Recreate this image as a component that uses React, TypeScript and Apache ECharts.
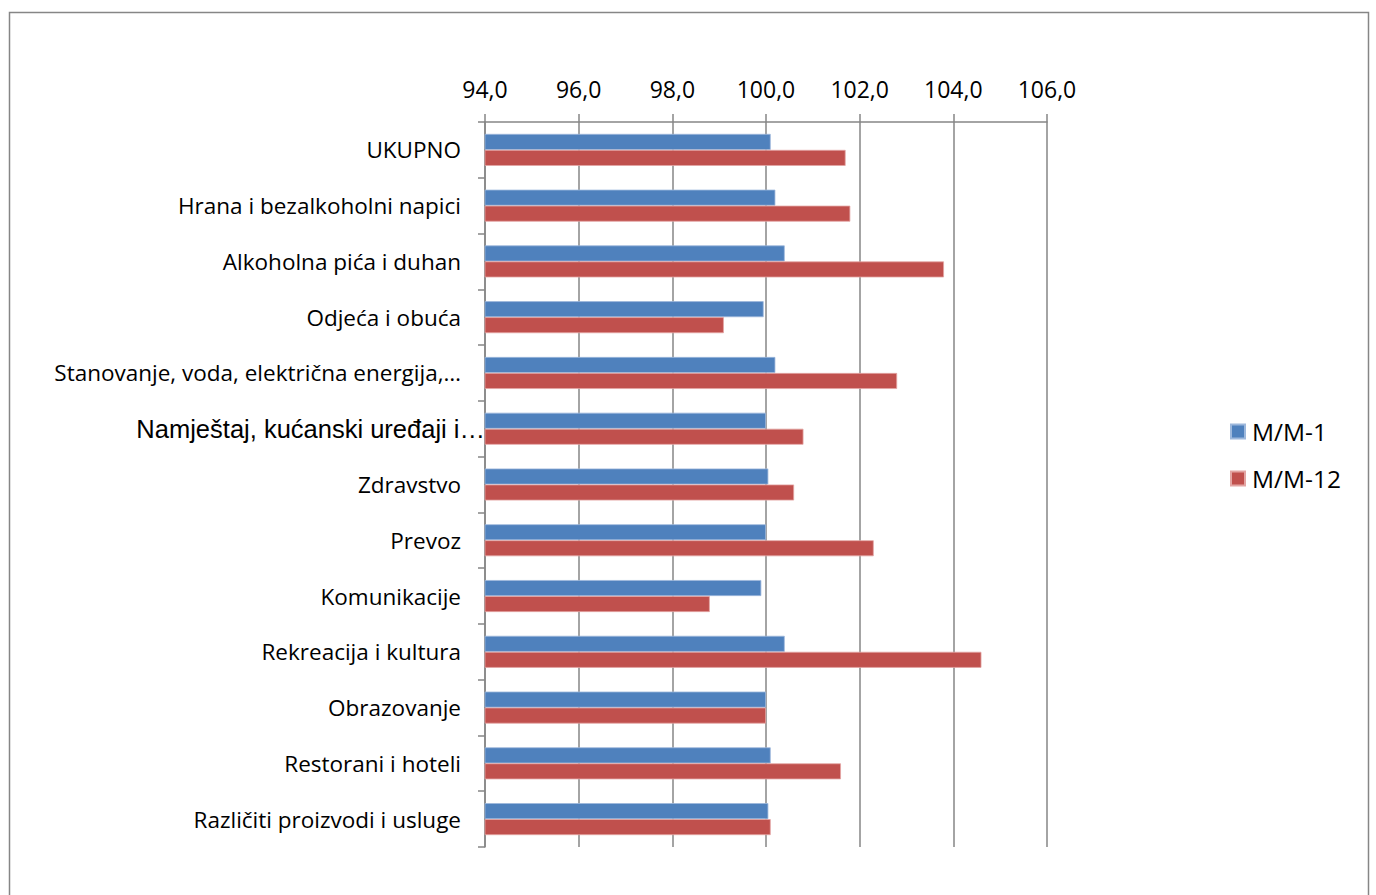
import React, { useEffect, useRef } from "react";
import * as echarts from "echarts";

const categories = [
  "UKUPNO",
  "Hrana i bezalkoholni napici",
  "Alkoholna pića i duhan",
  "Odjeća i obuća",
  "Stanovanje, voda, električna energija,…",
  "Namještaj, kućanski uređaji i…",
  "Zdravstvo",
  "Prevoz",
  "Komunikacije",
  "Rekreacija i kultura",
  "Obrazovanje",
  "Restorani i hoteli",
  "Različiti proizvodi i usluge",
];
const seriesNames = ["M/M-1", "M/M-12"];
const mm1 = [100.1, 100.2, 100.4, 99.95, 100.2, 100.0, 100.05, 100.0, 99.9, 100.4, 100.0, 100.1, 100.05];
const mm12 = [101.7, 101.8, 103.8, 99.1, 102.8, 100.8, 100.6, 102.3, 98.8, 104.6, 100.0, 101.6, 100.1];
const axisMin = 94;
const axisMax = 106;
const axisStep = 2;

const FONT = "'Open Sans', sans-serif";

export default function App() {
  const ref = useRef<HTMLDivElement>(null);
  useEffect(() => {
    if (!ref.current) return;
    const chart = echarts.init(ref.current, undefined, { renderer: "svg" });
    chart.setOption({
      animation: false,
      backgroundColor: "#ffffff",
      textStyle: { fontFamily: FONT },
      graphic: [
        {
          type: "rect",
          shape: { x: 9.5, y: 12.5, width: 1359, height: 900 },
          style: { fill: "none", stroke: "#868686", lineWidth: 1.5 },
          silent: true,
        },
      ],
      legend: {
        orient: "vertical",
        left: 1225,
        top: 414,
        itemWidth: 14,
        itemHeight: 14,
        itemGap: 22,
        icon: "rect",
        data: seriesNames,
        textStyle: { fontFamily: FONT, fontSize: 24.5, color: "#000", padding: [0, 0, 0, 2] },
      },
      grid: { left: 485, right: 329, top: 122, bottom: 48, containLabel: false },
      xAxis: {
        type: "value",
        position: "top",
        min: axisMin,
        max: axisMax,
        interval: axisStep,
        axisLine: { show: true, lineStyle: { color: "#868686", width: 1.5 } },
        axisTick: { show: true, length: 8, lineStyle: { color: "#868686", width: 1.5 } },
        splitLine: { show: true, lineStyle: { color: "#868686", width: 1.5 } },
        axisLabel: {
          margin: 22,
          fontSize: 23,
          color: "#000",
          fontFamily: FONT,
          formatter: (v: number) => v.toFixed(1).replace(".", ","),
        },
      },
      yAxis: {
        type: "category",
        inverse: true,
        data: categories,
        axisLine: { show: true, lineStyle: { color: "#868686", width: 1.5 } },
        axisTick: { show: true, length: 7, alignWithLabel: false, lineStyle: { color: "#868686", width: 1.5 } },
        splitLine: { show: false },
        axisLabel: {
          margin: 0,
          color: "#000",
          formatter: (v: string) =>
            v.startsWith("Namještaj") ? "{b|" + v + "}" : "{a|" + v + "}",
          rich: {
            a: { fontFamily: FONT, fontSize: 22.5, color: "#000", padding: [0, 24, 0, 0] },
            b: { fontFamily: "'Liberation Sans', Arial, sans-serif", fontSize: 25.5, color: "#000" },
          },
        },
      },
      series: [
        {
          name: seriesNames[0],
          type: "bar",
          data: mm1,
          barWidth: 16,
          barGap: "0%",
          itemStyle: { color: "#4F81BD", borderColor: "#9DB8DC", borderWidth: 0.8 },
        },
        {
          name: seriesNames[1],
          type: "bar",
          data: mm12,
          barWidth: 16,
          barGap: "0%",
          itemStyle: { color: "#C0504D", borderColor: "#E3A5A3", borderWidth: 0.8 },
        },
      ],
    });
    return () => chart.dispose();
  }, []);
  return (
    <div
      ref={ref}
      style={{ position: "fixed", left: 0, top: 0, width: 1376, height: 895 }}
    />
  );
}
